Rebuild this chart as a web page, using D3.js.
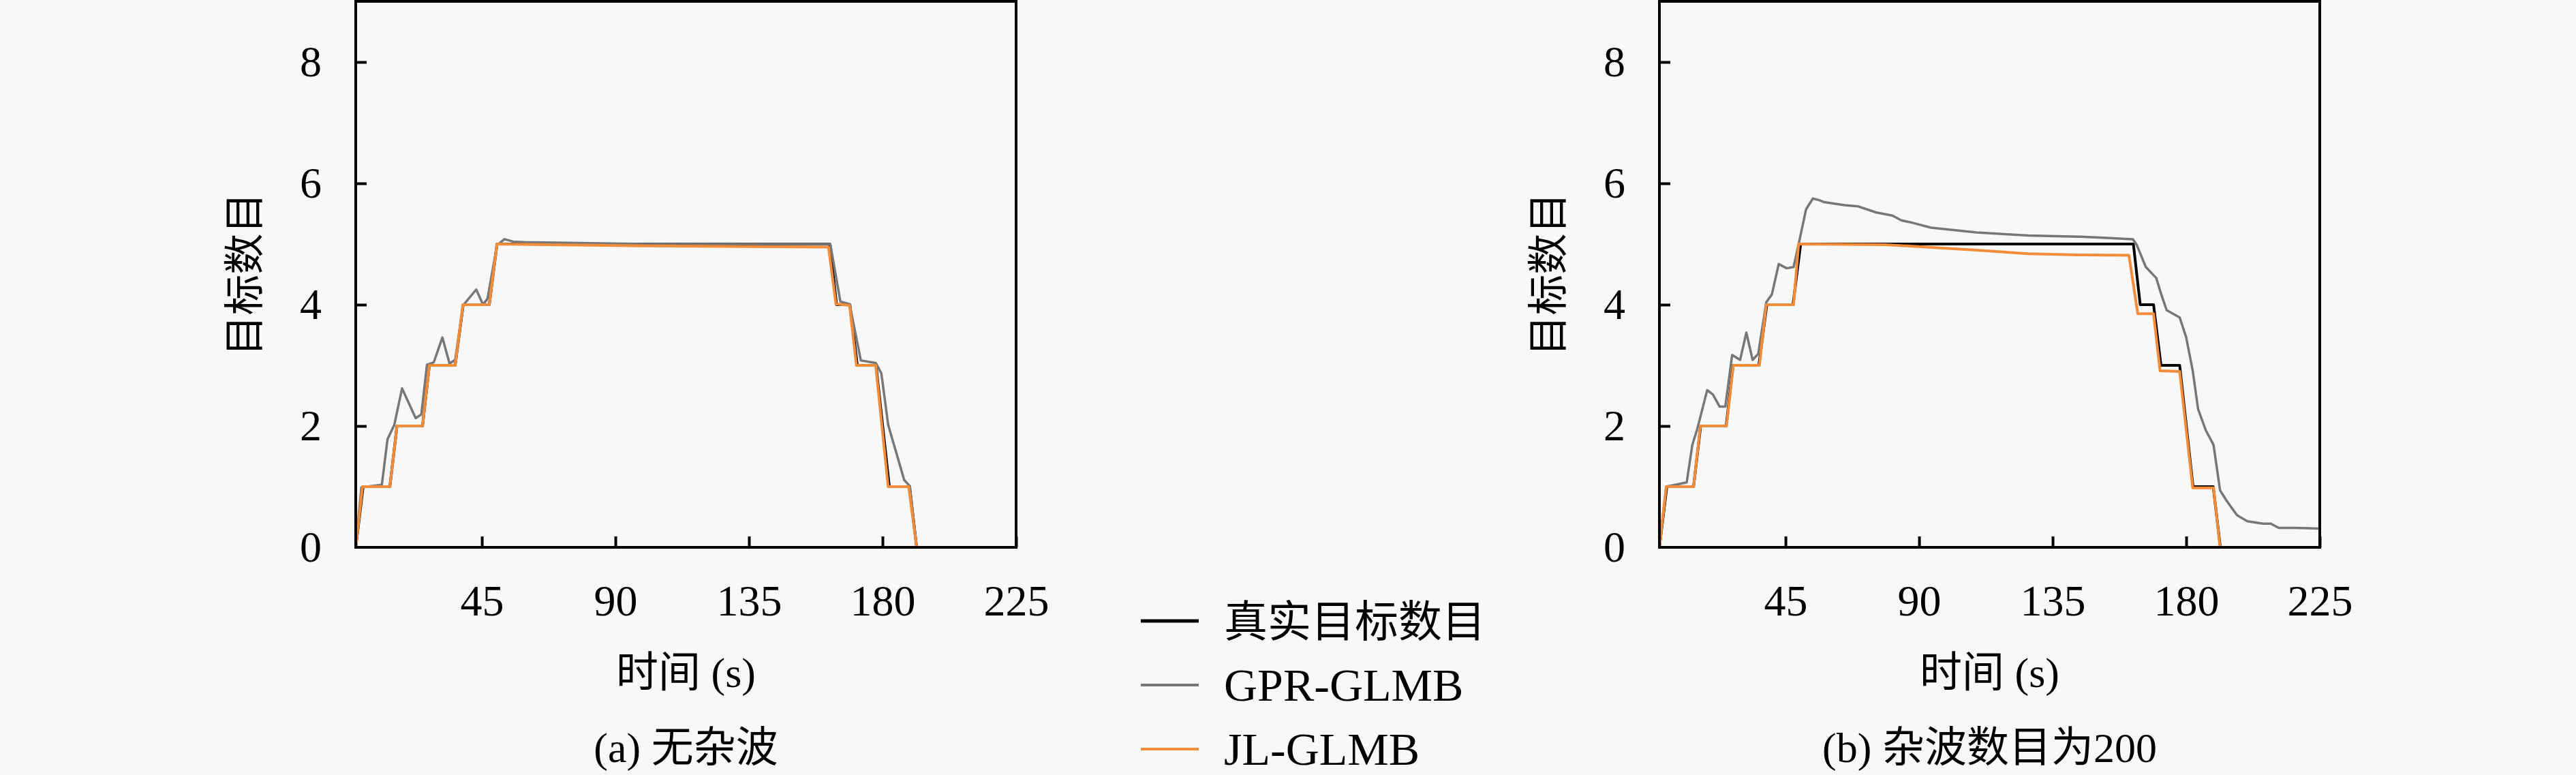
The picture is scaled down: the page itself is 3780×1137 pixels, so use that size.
<!DOCTYPE html>
<html>
<head>
<meta charset="utf-8">
<script src="https://cdn.jsdelivr.net/npm/d3@7"></script>
<style>
  body { margin: 0; background: #f8f8f8; }
  text { font-family: 'Liberation Serif', 'Noto Sans CJK SC', serif; fill: #000; }
</style>
</head>
<body>
<svg id="chart"></svg>
<script>

let width = 3780;
let height = 1137;

// tick values
let xTicks = [45, 90, 135, 180, 225];
let yTicks = [0, 2, 4, 6, 8];

// true number of targets (same in both panels)
let truthTime  = [2.5, 5, 14, 16.4, 25, 27.3, 36, 38.7, 47.5, 50.1, 162.2, 164.5, 169, 171.5, 177.8, 182.3, 189.1, 191.5];
let truthCount = [0, 1, 1, 2, 2, 3, 3, 4, 4, 5, 5, 4, 4, 3, 3, 1, 1, 0];

// (a) no clutter
let gprTimeA  = [2.5, 4.4, 11.3, 13.2, 15.5, 18.1, 22.7, 24.6, 26.5, 28.8, 31.7, 34.1, 36.0, 38.7, 43.1, 45.4, 46.9, 50.1, 52.6, 55.5, 59.3, 100, 162.4, 165.8, 168.9, 172.7, 177.7, 179.6, 181.9, 187.3, 189.2, 191.5];
let gprCountA = [0, 0.99, 1.03, 1.78, 2.02, 2.62, 2.13, 2.19, 3.01, 3.05, 3.46, 3.03, 3.09, 3.99, 4.25, 4.0, 4.1, 4.98, 5.08, 5.04, 5.03, 5.0, 5.0, 4.05, 4.01, 3.08, 3.04, 2.87, 2.02, 1.11, 1.01, 0];

let jlTimeA  = [2.5, 4.8, 14.0, 16.4, 25.0, 27.3, 36.0, 38.6, 47.5, 50.1, 100, 161.8, 164.3, 168.9, 171.2, 177.7, 181.9, 188.8, 191.5];
let jlCountA = [0, 1, 1, 2, 2, 3, 3, 4, 4, 5, 4.97, 4.95, 4.01, 3.99, 3.0, 3.0, 1.0, 1.0, 0];

// (b) 200 clutter
let gprTimeB  = [2.5, 4.8, 11.7, 13.6, 15.2, 18.6, 20.5, 22.8, 24.7, 27.0, 29.7, 31.8, 33.9, 35.8, 38.5, 40.4, 42.7, 45.4, 47.7, 49.6, 51.9, 54.2, 56.5, 58.0, 64.9, 69.5, 75.6, 81.0, 84.0, 87.8, 94.0, 101.6, 109.3, 119.8, 126.8, 144.4, 153.2, 162.0, 163.3, 166.4, 169.9, 171.6, 173.4, 177.8, 180.0, 182.2, 184.0, 186.6, 189.2, 191.4, 193.6, 197.1, 200.6, 205.9, 208.5, 211.2, 217.3, 225];
let gprCountB = [0, 1.0, 1.07, 1.69, 1.94, 2.59, 2.52, 2.32, 2.32, 3.17, 3.09, 3.54, 3.09, 3.19, 4.04, 4.17, 4.67, 4.6, 4.62, 5.04, 5.57, 5.75, 5.72, 5.69, 5.64, 5.62, 5.52, 5.47, 5.39, 5.35, 5.27, 5.23, 5.19, 5.16, 5.14, 5.12, 5.10, 5.08, 4.99, 4.62, 4.44, 4.17, 3.91, 3.79, 3.46, 2.91, 2.28, 1.93, 1.69, 0.94, 0.77, 0.53, 0.43, 0.39, 0.39, 0.32, 0.32, 0.31];

let jlTimeB  = [2.5, 4.8, 14.0, 16.3, 25.1, 27.4, 36.2, 38.5, 47.7, 49.4, 78.7, 109.3, 126.8, 144.4, 160.7, 163.7, 169.0, 171.2, 177.8, 182.2, 189.2, 191.4];
let jlCountB = [0, 1, 1, 2, 2, 3, 3, 4, 4, 5, 4.99, 4.90, 4.84, 4.82, 4.815, 3.85, 3.85, 2.91, 2.9, 0.98, 0.98, 0];

let seriesNames = ["真实目标数目", "GPR-GLMB", "JL-GLMB"];
let seriesColors = ["#000000", "#777777", "#f28c38"];
let seriesWidths = [4, 3.5, 4];

let captions = ["(a) 无杂波", "(b) 杂波数目为200"];

// zip time + count into point objects
function pts(t, n) {
    return t.map(function (d, i) { return { t: d, n: n[i] } })
}

let panels = [
    { left: 522, caption: captions[0],
      series: [pts(truthTime, truthCount), pts(gprTimeA, gprCountA), pts(jlTimeA, jlCountA)] },
    { left: 2435, caption: captions[1],
      series: [pts(truthTime, truthCount), pts(gprTimeB, gprCountB), pts(jlTimeB, jlCountB)] }
];

let plotW = 969;
let plotTop = 2;
let plotBottom = 803;

let svg = d3.select("#chart")
    .attr("width", width)
    .attr("height", height);

svg.append("rect")
    .attr("width", width)
    .attr("height", height)
    .attr("fill", "#f8f8f8");

panels.forEach(function (p) {

    let x = d3.scaleLinear()
        .domain([2.5, 225])
        .range([p.left, p.left + plotW]);

    let y = d3.scaleLinear()
        .domain([0, 9])
        .range([plotBottom, plotTop]);

    let g = svg.append("g");

    // inward ticks, only bottom + left
    let xAxis = d3.axisBottom(x)
        .tickValues(xTicks)
        .tickSizeInner(-16)
        .tickSizeOuter(0)
        .tickPadding(55);

    let yAxis = d3.axisLeft(y)
        .tickValues(yTicks)
        .tickSizeInner(-16)
        .tickSizeOuter(0)
        .tickPadding(50);

    let gx = g.append("g")
        .attr("transform", `translate(0,${plotBottom})`)
        .call(xAxis);
    gx.select(".domain").remove();
    gx.selectAll("line").attr("stroke", "#000").attr("stroke-width", 4);
    gx.selectAll("text").style("font-size", "64px").attr("fill", "#000");

    let gy = g.append("g")
        .attr("transform", `translate(${p.left},0)`)
        .call(yAxis);
    gy.select(".domain").remove();
    gy.selectAll("line").attr("stroke", "#000").attr("stroke-width", 4);
    gy.selectAll("text").style("font-size", "64px").attr("fill", "#000");
    // the 0 label sits at the corner, no tick drawn there
    gy.selectAll(".tick").filter(d => d == 0).select("line").remove();

    let line = d3.line()
        .x(d => x(d.t))
        .y(d => y(d.n));

    p.series.forEach(function (s, i) {
        g.append("path")
            .attr("d", line(s))
            .attr("fill", "none")
            .attr("stroke", seriesColors[i])
            .attr("stroke-width", seriesWidths[i])
            .attr("stroke-linejoin", "round");
    });

    // box around the plot
    g.append("rect")
        .attr("x", p.left)
        .attr("y", plotTop)
        .attr("width", plotW)
        .attr("height", plotBottom - plotTop)
        .attr("fill", "none")
        .attr("stroke", "#000")
        .attr("stroke-width", 4);

    let cx = p.left + plotW / 2;

    // y label
    g.append("text")
        .attr("transform", `translate(${p.left - 162},${(plotTop + plotBottom) / 2}) rotate(-90)`)
        .attr("text-anchor", "middle")
        .attr("dominant-baseline", "central")
        .style("font-size", "60px")
        .text("目标数目");

    // x label
    g.append("text")
        .attr("x", cx)
        .attr("y", 1008)
        .attr("text-anchor", "middle")
        .style("font-size", "62px")
        .text("时间 (s)");

    // caption under each panel
    g.append("text")
        .attr("x", cx)
        .attr("y", 1118)
        .attr("text-anchor", "middle")
        .style("font-size", "62px")
        .text(p.caption);
});

// legend in the middle
let legend = svg.append("g");
let legendY = [911, 1005, 1099];

seriesNames.forEach(function (name, i) {
    legend.append("line")
        .attr("x1", 1674)
        .attr("x2", 1759)
        .attr("y1", legendY[i])
        .attr("y2", legendY[i])
        .attr("stroke", seriesColors[i])
        .attr("stroke-width", i == 0 ? 5 : 4);

    legend.append("text")
        .attr("x", 1796)
        .attr("y", legendY[i] + 23)
        .style("font-size", i == 0 ? "64px" : "68px")
        .text(name);
});

</script>
</body>
</html>
